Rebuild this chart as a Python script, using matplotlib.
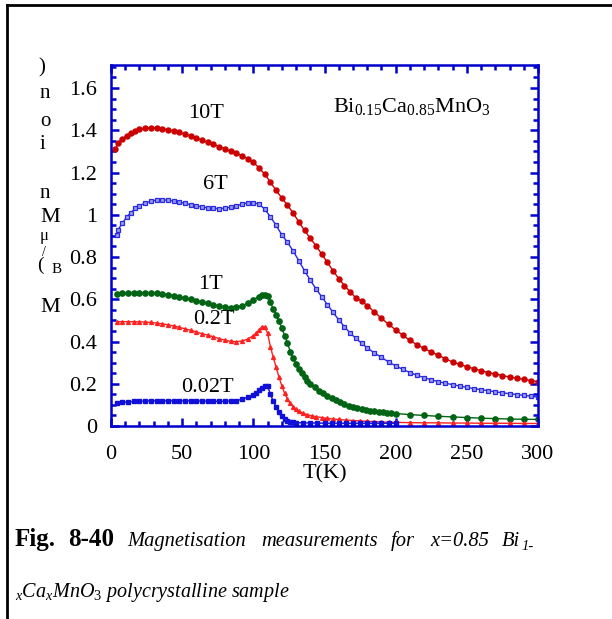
import numpy as np
import matplotlib
matplotlib.use('Agg')
import matplotlib.pyplot as plt
from matplotlib.lines import Line2D

plt.rcParams['font.family'] = ['Liberation Serif', 'DejaVu Serif']
plt.rcParams['mathtext.fontset'] = 'custom'
plt.rcParams['mathtext.rm'] = 'Liberation Serif'
plt.rcParams['mathtext.it'] = 'Liberation Serif:italic'
plt.rcParams['mathtext.bf'] = 'Liberation Serif:bold'

# ---- data: T in K, M in muB / Mn ion ----
T_10 = [3, 5, 8, 11, 14, 17, 20, 24, 28, 32, 36, 40, 44, 48, 52, 56, 60, 64, 68, 72, 76, 80, 84, 88,
        92, 96, 100, 104, 108, 112, 116, 120, 124, 128, 132, 136, 140, 144, 148, 152, 156, 160, 164,
        168, 172, 176, 180, 185, 190, 195, 200, 205, 210, 215, 220, 225, 230, 235, 240, 245, 250, 255,
        260, 265, 270, 275, 280, 285, 290, 295, 300]
M_10 = [1.31, 1.34, 1.36, 1.375, 1.388, 1.397, 1.404, 1.409, 1.412, 1.411, 1.408, 1.403, 1.397, 1.390,
        1.382, 1.373, 1.364, 1.354, 1.344, 1.334, 1.323, 1.312, 1.301, 1.291, 1.280, 1.266, 1.248,
        1.222, 1.192, 1.155, 1.115, 1.080, 1.045, 1.008, 0.966, 0.926, 0.888, 0.854, 0.814, 0.775,
        0.735, 0.698, 0.664, 0.636, 0.606, 0.592, 0.570, 0.540, 0.510, 0.482, 0.455, 0.430, 0.405,
        0.385, 0.367, 0.350, 0.335, 0.318, 0.303, 0.292, 0.281, 0.271, 0.262, 0.253, 0.246, 0.239,
        0.232, 0.226, 0.221, 0.215, 0.210]

T_6 = [4, 5, 8, 11, 14, 17, 20, 24, 28, 32, 36, 40, 44, 48, 52, 56, 60, 64, 68, 72, 76, 80, 84, 88,
       92, 96, 100, 104, 108, 112, 116, 120, 124, 128, 132, 136, 140, 144, 148, 152, 156, 160, 164,
       168, 172, 176, 180, 185, 190, 195, 200, 205, 210, 215, 220, 225, 230, 235, 240, 245, 250, 255,
       260, 265, 270, 275, 280, 285, 290, 295, 300]
M_6 = [0.905, 0.93, 0.96, 0.99, 1.01, 1.03, 1.043, 1.055, 1.064, 1.069, 1.071, 1.069, 1.065, 1.060,
       1.054, 1.048, 1.042, 1.037, 1.033, 1.030, 1.029, 1.031, 1.036, 1.043, 1.050, 1.057, 1.058,
       1.050, 1.027, 0.990, 0.950, 0.905, 0.870, 0.828, 0.782, 0.735, 0.690, 0.650, 0.612, 0.575,
       0.538, 0.503, 0.470, 0.440, 0.415, 0.392, 0.370, 0.346, 0.325, 0.303, 0.285, 0.268, 0.253,
       0.240, 0.229, 0.219, 0.210, 0.202, 0.196, 0.189, 0.183, 0.177, 0.172, 0.167, 0.162, 0.157,
       0.153, 0.149, 0.145, 0.141, 0.137]

T_1 = [4, 8, 12, 16, 20, 24, 28, 32, 36, 40, 44, 48, 52, 56, 60, 64, 68, 72, 76, 80, 84, 88, 92, 96,
       100, 104, 106, 108, 110, 112, 114, 116, 118, 120, 122, 124, 126, 128, 130, 132, 134, 136, 138,
       140, 143, 146, 149, 152, 155, 158, 161, 164, 167, 170, 173, 176, 179, 182, 185, 188, 191, 194,
       197, 200, 210, 220, 230, 240, 250, 260, 270, 280, 290, 300]
M_1 = [0.626, 0.628, 0.629, 0.630, 0.630, 0.630, 0.629, 0.628, 0.625, 0.622, 0.617, 0.611, 0.605,
       0.599, 0.594, 0.588, 0.581, 0.574, 0.568, 0.563, 0.560, 0.561, 0.568, 0.582, 0.598, 0.613,
       0.620, 0.621, 0.615, 0.585, 0.553, 0.527, 0.497, 0.464, 0.428, 0.392, 0.352, 0.320, 0.293,
       0.271, 0.252, 0.230, 0.213, 0.200, 0.183, 0.168, 0.155, 0.144, 0.134, 0.124, 0.115, 0.105,
       0.097, 0.091, 0.086, 0.081, 0.077, 0.073, 0.070, 0.067, 0.065, 0.063, 0.061, 0.059, 0.054,
       0.050, 0.046, 0.043, 0.040, 0.037, 0.035, 0.033, 0.032, 0.031]

T_02 = [4, 8, 12, 16, 20, 24, 28, 32, 36, 40, 44, 48, 52, 56, 60, 64, 68, 72, 76, 80, 84, 88, 92, 96,
        100, 102, 104, 106, 108, 110, 112, 114, 116, 118, 120, 122, 124, 126, 128, 130, 132, 135, 138,
        141, 144, 148, 152, 156, 160, 165, 170, 175, 180, 185, 190, 195, 200, 210, 220, 230, 240, 250,
        260, 270, 280, 290, 300]
M_02 = [0.494, 0.494, 0.494, 0.494, 0.493, 0.492, 0.490, 0.487, 0.484, 0.479, 0.474, 0.467, 0.460,
        0.453, 0.445, 0.437, 0.430, 0.422, 0.414, 0.406, 0.401, 0.399, 0.402, 0.411, 0.428, 0.440,
        0.455, 0.470, 0.468, 0.440, 0.375, 0.325, 0.278, 0.232, 0.190, 0.155, 0.127, 0.107, 0.092,
        0.080, 0.070, 0.060, 0.053, 0.048, 0.044, 0.040, 0.036, 0.033, 0.031, 0.028, 0.026, 0.024,
        0.022, 0.021, 0.019, 0.018, 0.017, 0.016, 0.015, 0.015, 0.014, 0.014, 0.013, 0.013, 0.013,
        0.012, 0.012]

T_002 = [4, 8, 12, 16, 20, 24, 28, 32, 36, 40, 44, 48, 52, 56, 60, 64, 68, 72, 76, 80, 84, 88, 92, 96,
         100, 102, 104, 106, 108, 110, 112, 114, 116, 118, 120, 122, 124, 126, 128, 130, 135, 140, 145,
         150, 155, 160, 165, 170, 175, 180, 185, 190, 195, 200]
M_002 = [0.109, 0.112, 0.114, 0.116, 0.117, 0.118, 0.119, 0.119, 0.119, 0.119, 0.119, 0.119, 0.119,
         0.119, 0.118, 0.118, 0.118, 0.117, 0.117, 0.117, 0.118, 0.120, 0.126, 0.136, 0.148, 0.158,
         0.170, 0.182, 0.190, 0.190, 0.150, 0.118, 0.090, 0.065, 0.045, 0.031, 0.023, 0.019, 0.017,
         0.016, 0.015, 0.014, 0.014, 0.013, 0.013, 0.013, 0.013, 0.013, 0.013, 0.013, 0.013, 0.013,
         0.013, 0.013]

field_labels = ['10T', '6T', '1T', '0.2T', '0.02T']
label_pos = [(67, 1.48), (73, 1.145), (70, 0.672), (72, 0.506), (68, 0.183)]

W, H = 612, 619
fig = plt.figure(figsize=(W / 100, H / 100), dpi=100)
ax = fig.add_axes([111 / W, 1 - 426 / H, (538 - 111) / W, (426 - 65) / H])

blue_ax = '#0000cc'
ax.plot(T_10, M_10, '-o', color='#cc0000', lw=1, ms=3.6)
ax.plot(T_6, M_6, '-s', color='#2a2ae0', lw=1, ms=3.4, mfc='#9a9af0', mec='#2a2ae0', mew=0.9)
ax.plot(T_1, M_1, '-o', color='#006414', lw=1, ms=3.8)
ax.plot(T_02, M_02, '-^', color='#ff2020', lw=1, ms=2.8)
ax.plot(T_002, M_002, '-s', color='#1010d8', lw=1, ms=2.2)

for lab, (tx, ty) in zip(field_labels, label_pos):
    ax.text(tx, ty, lab, fontsize=16, ha='center', va='center')

ax.text(0.52, 0.885, r'$\mathrm{Bi_{0.15}Ca_{0.85}MnO_3}$', transform=ax.transAxes,
        fontsize=16, ha='left', va='center')

ax.set_xlim(0, 300)
ax.set_ylim(0, 1.709)
ax.set_xticks(np.arange(0, 301, 50))
ax.set_xticks(np.arange(0, 301, 10), minor=True)
ax.set_yticks(np.arange(0, 1.61, 0.2))
ax.set_yticks(np.arange(0, 1.71, 0.05), minor=True)
ax.set_yticklabels(['0', '0.2', '0.4', '0.6', '0.8', '1', '1.2', '1.4', '1.6'])
for s in ax.spines.values():
    s.set_color(blue_ax)
    s.set_linewidth(1.8)
ax.tick_params(which='both', direction='in', top=True, right=True, color=blue_ax, labelsize=16)
ax.tick_params(which='major', length=6, width=1.8)
ax.tick_params(which='minor', length=3.5, width=1.8)
ax.tick_params(axis='x', pad=14)
ax.tick_params(axis='y', pad=10)
ax.set_xlabel('T(K)', fontsize=16, labelpad=0)

# y label drawn as upright characters stacked bottom to top, like the reference
ylab_chars = [('M', 50, 308, 16), ('(', 40, 265, 14), ('B', 57, 269, 11), ('/', 44, 252, 10),
              ('μ', 44, 236, 12), ('M', 50, 218, 16), ('n', 45, 194, 15), ('i', 42, 145, 15),
              ('o', 45, 122, 15), ('n', 45, 93, 15), (')', 42, 68, 15)]
for ch, px, py, fs in ylab_chars:
    fig.text(px / W, 1 - py / H, ch, fontsize=fs, ha='center', va='center')

# frame around the figure (only top and left edges visible)
fig.add_artist(Line2D([6.5 / W, 1], [1 - 5 / H, 1 - 5 / H], color='black', lw=2))
fig.add_artist(Line2D([6.5 / W, 6.5 / W], [0, 1 - 5 / H], color='black', lw=2))

# caption
cap1 = [('Fig.', 15, 'bold', 'normal', 18), ('8-40', 68, 'bold', 'normal', 18),
        ('Magnetisation', 127, 'normal', 'italic', 14.8), ('measurements', 261, 'normal', 'italic', 14.8),
        ('for', 391, 'normal', 'italic', 14.8), ('x=0.85', 430, 'normal', 'italic', 14.8),
        ('Bi', 502, 'normal', 'italic', 14.8)]
for word, px, fw, st, fs in cap1:
    fig.text(px / W, 1 - 546 / H, word, fontsize=fs, fontweight=fw, style=st, va='baseline')
fig.text(521 / W, 1 - 550 / H, '1-', fontsize=10.5, style='italic', va='baseline')
fig.text(15 / W, 1 - 597 / H, r'$_{x}$Ca$_{x}$MnO$_{3}$ polycrystalline sample', fontsize=14.5,
         style='italic', va='baseline')

fig.savefig('out.png', dpi=100)
